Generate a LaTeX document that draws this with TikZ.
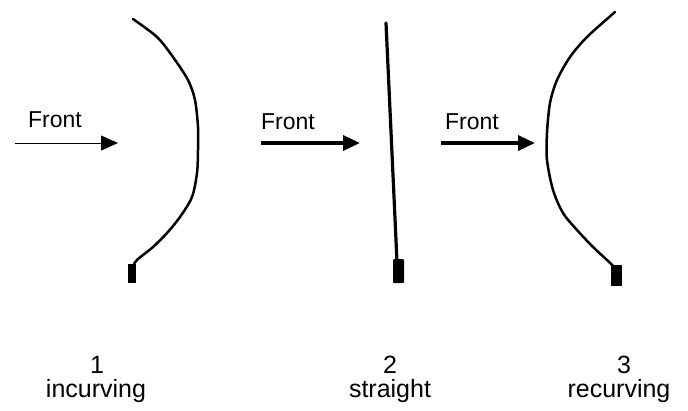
\documentclass[tikz,border=0pt]{standalone}
\usepackage{fontspec}
\setmainfont{Liberation Sans}
\usetikzlibrary{arrows.meta}

\begin{document}
\begin{tikzpicture}[
    x=1pt, y=-1pt,
    bow/.style={line width=2.5pt, line cap=round, line join=round},
    grip/.style={fill=black},
    arrow/.style={-{Triangle[length=17pt,width=15pt]}},
    thinarrow/.style={arrow, line width=0.8pt},
    thickarrow/.style={arrow, line width=3.5pt},
    label/.style={font=\fontsize{23}{25}\selectfont, anchor=base, inner sep=0pt},
    biglabel/.style={label, font=\fontsize{25}{27}\selectfont}
]
\useasboundingbox (0,0) rectangle (688,410);

% ==================== BOWS ====================
% 1: incurving
\draw[bow] plot[smooth] coordinates {(133,19) (157,37) (173,57) (188,80) (195,100)
    (198,127) (198,150) (197,173) (192,197) (180,217) (167,233) (153,247) (138,259) (134,264)};
\fill[grip] (128,264) rectangle (136,283);

% 2: straight
\draw[bow, line width=3.2pt] (386,23) -- (397,262);
\fill[grip, rounded corners=1pt] (393,259) rectangle (404,283);

% 3: recurving
\draw[bow] plot[smooth] coordinates {(615,12) (587,37) (570,57) (557,80) (550,103)
    (547,133) (547,160) (553,190) (563,213) (577,230) (593,247) (607,260) (613,266)};
\fill[grip] (611,265) rectangle (622,286);

% ==================== ARROWS ====================
\coordinate (s1) at (15,143);
\coordinate (e1) at (118,143);
\coordinate (s2) at (261,143);
\coordinate (e2) at (360,143);
\coordinate (s3) at (441,143);
\coordinate (e3) at (535,143);

\draw[thinarrow] (s1) -- (e1);
\draw[thickarrow] (s2) -- (e2);
\draw[thickarrow] (s3) -- (e3);

\node[label] (front1) at (55,127) {Front};
\node[label] (front2) at (288,129) {Front};
\node[label] (front3) at (472,129) {Front};

% ==================== LABELS ====================
\node[biglabel] (num1) at (97,373) {1};
\node[biglabel] (name1) at (96,397) {incurving};
\node[biglabel] (num2) at (390,373) {2};
\node[biglabel] (name2) at (390,397) {straight};
\node[biglabel] (num3) at (624,373) {3};
\node[biglabel] (name3) at (619,397) {recurving};

\end{tikzpicture}
\end{document}
